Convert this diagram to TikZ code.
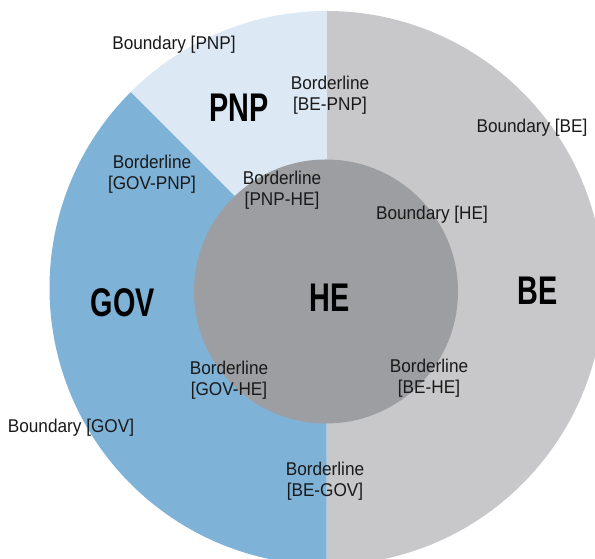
\documentclass[tikz,border=0pt]{standalone}
\usepackage{fontspec}
\setmainfont{Liberation Sans}[FakeStretch=0.93]
\newfontfamily\condfont{Liberation Sans}[FakeStretch=0.72]
\definecolor{pnpC}{HTML}{DCE8F3}
\definecolor{govC}{HTML}{7FB2D7}
\definecolor{beC}{HTML}{C8C8CA}
\definecolor{heC}{HTML}{9D9EA1}
\begin{document}
\begin{tikzpicture}[x=1pt,y=1pt,
  lab/.style={font=\fontsize{18.5}{20.5}\selectfont, align=center, inner sep=0pt, text=black!90},
  big/.style={font=\condfont\bfseries\fontsize{40}{40}\selectfont, inner sep=0pt, text=black}]
\useasboundingbox (0,0) rectangle (595,559);
\clip (0,0) rectangle (595,559);
\coordinate (c) at (326.5,271);
\coordinate (hc) at (326,267.5);
\fill[beC] (c) -- ++(90:277) arc[start angle=90,end angle=-90,radius=277] -- cycle;
\fill[pnpC] (c) -- ++(90:277) arc[start angle=90,end angle=135,radius=277] -- cycle;
\fill[govC] (c) -- ++(135:277) arc[start angle=135,end angle=270,radius=277] -- cycle;
\fill[heC] (hc) circle[radius=132];

\node[lab] (bpnp) at (174,514) {Boundary [PNP]};
\node[lab] (blbepnp) at (330,464) {Borderline\\{[}BE-PNP{]}};
\node[big] (pnp) at (239,451) {PNP};
\node[lab] (bbe) at (532,431) {Boundary [BE]};
\node[lab] (blgovpnp) at (152,385) {Borderline\\{[}GOV-PNP{]}};
\node[lab] (blpnphe) at (282,369) {Borderline\\{[}PNP-HE{]}};
\node[lab] (bhe) at (432,344) {Boundary [HE]};
\node[big] (gov) at (123,256) {GOV};
\node[big] (he) at (330,261) {HE};
\node[big] (be) at (538,268) {BE};
\node[lab] (blgovhe) at (229,179) {Borderline\\{[}GOV-HE{]}};
\node[lab] (blbehe) at (429,181) {Borderline\\{[}BE-HE{]}};
\node[lab] (bgov) at (71,131) {Boundary [GOV]};
\node[lab] (blbegov) at (325,78) {Borderline\\{[}BE-GOV{]}};
\end{tikzpicture}
\end{document}
